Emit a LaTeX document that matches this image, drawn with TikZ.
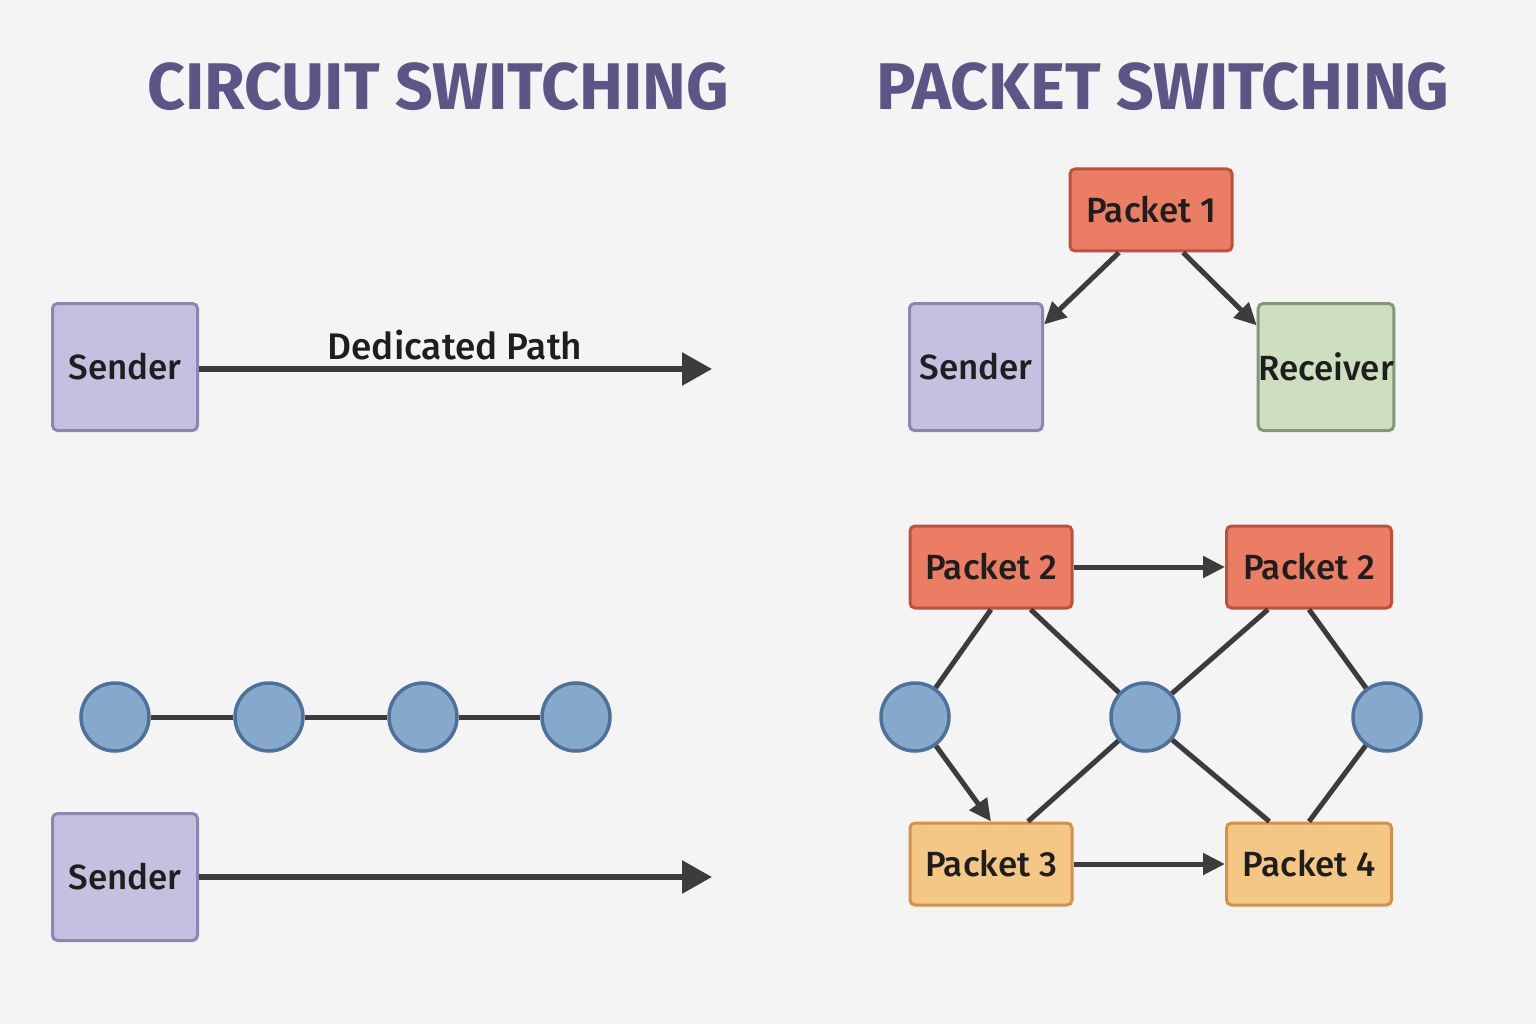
\documentclass[tikz,border=0pt]{standalone}
\usepackage{fontspec}
\setmainfont{Fira Sans}
\newfontfamily\medfont{Fira Sans Medium}
\usetikzlibrary{arrows.meta}

\definecolor{bgcol}{HTML}{F4F4F4}
\definecolor{titlecol}{HTML}{5E5485}
\definecolor{txtcol}{HTML}{1E1E1E}
\definecolor{linecol}{HTML}{3C3C3C}
\definecolor{sendfill}{HTML}{C5C0E0}
\definecolor{senddraw}{HTML}{8B86B3}
\definecolor{recvfill}{HTML}{CEDFC0}
\definecolor{recvdraw}{HTML}{82977A}
\definecolor{redfill}{HTML}{EB7D65}
\definecolor{reddraw}{HTML}{C0503E}
\definecolor{orfill}{HTML}{F5C785}
\definecolor{ordraw}{HTML}{D3924A}
\definecolor{dotfill}{HTML}{86A8CB}
\definecolor{dotdraw}{HTML}{4E709A}

\tikzset{
  box/.style={rounded corners=5pt, line width=3pt, inner sep=0pt, text=txtcol,
    font=\medfont\fontsize{35}{40}\selectfont},
  sendbox/.style={box, fill=sendfill, draw=senddraw, minimum width=145pt, minimum height=127pt},
  recvbox/.style={box, fill=recvfill, draw=recvdraw, minimum width=133pt, minimum height=127pt},
  redpkt/.style={box, fill=redfill, draw=reddraw, minimum width=162pt, minimum height=82pt},
  orpkt/.style={box, fill=orfill, draw=ordraw, minimum width=162pt, minimum height=82pt},
  dot/.style={circle, fill=dotfill, draw=dotdraw, line width=3.5pt, minimum size=68pt, inner sep=0pt},
  title/.style={text=titlecol, font=\fontsize{66}{72}\selectfont\bfseries},
  bigarrow/.style={draw=linecol, line width=6pt, -{Triangle[length=30pt,width=32pt]}},
  arrow/.style={draw=linecol, line width=5pt, -{Triangle[length=22pt,width=21pt]}},
  wire/.style={draw=linecol, line width=5pt}
}

\begin{document}
\begin{tikzpicture}[x=1pt,y=1pt,yscale=-1]
\fill[bgcol] (0,0) rectangle (1536,1024);
\useasboundingbox (0,0) rectangle (1536,1024);

% titles
\node[title] (ctitle) at (438,87) {CIRCUIT SWITCHING};
\node[title] (ptitle) at (1163,87) {PACKET SWITCHING};

% circuit switching
\node[sendbox] (csend) at (125,367) {Sender};
\coordinate (cend) at (712,369);
\draw[bigarrow] (csend.east |- cend) -- (cend);
\node[font=\medfont\fontsize{37}{42}\selectfont, text=txtcol] (dedlabel) at (455,345) {Dedicated Path};

\foreach \i/\x in {1/115,2/269,3/423,4/576}
  \node[dot] (cd\i) at (\x,717) {};
\foreach \a/\b in {1/2,2/3,3/4}
  \draw[wire] (cd\a) -- (cd\b);

\node[sendbox] (csendb) at (125,877) {Sender};
\coordinate (cendb) at (712,877);
\draw[bigarrow] (csendb.east |- cendb) -- (cendb);

% packet switching
\node[redpkt] (pkt1) at (1151,210) {Packet 1};
\node[sendbox, minimum width=133pt] (psend) at (976,367) {Sender};
\node[recvbox] (precv) at (1326,367) {Receiver};
\draw[arrow] (pkt1.-127) -- (psend.32);
\draw[arrow] (pkt1.-53) -- (precv.149);

\node[redpkt] (pkt2a) at (991,567) {Packet 2};
\node[redpkt, minimum width=165pt] (pkt2b) at (1309,567) {Packet 2};
\node[orpkt] (pkt3) at (991,864) {Packet 3};
\node[orpkt, minimum width=165pt] (pkt4) at (1309,864) {Packet 4};

\node[dot] (pdl) at (915,717) {};
\node[dot] (pdm) at (1145,717) {};
\node[dot] (pdr) at (1387,717) {};

\draw[arrow] (pkt2a) -- (pkt2b);
\draw[arrow] (pkt3) -- (pkt4);

\draw[wire] (pkt2a.south) -- (pdl);
\draw[wire] (pkt2a.-47) -- (pdm);
\draw[wire] (pkt2b.-134) -- (pdm);
\draw[wire] (pkt2b.south) -- (pdr);
\draw[arrow] (pdl) -- (pkt3.north);
\draw[wire] (pdm) -- (pkt3.49);
\draw[wire] (pdm) -- (pkt4.133);
\draw[wire] (pdr) -- (pkt4.north);

\end{tikzpicture}
\end{document}
